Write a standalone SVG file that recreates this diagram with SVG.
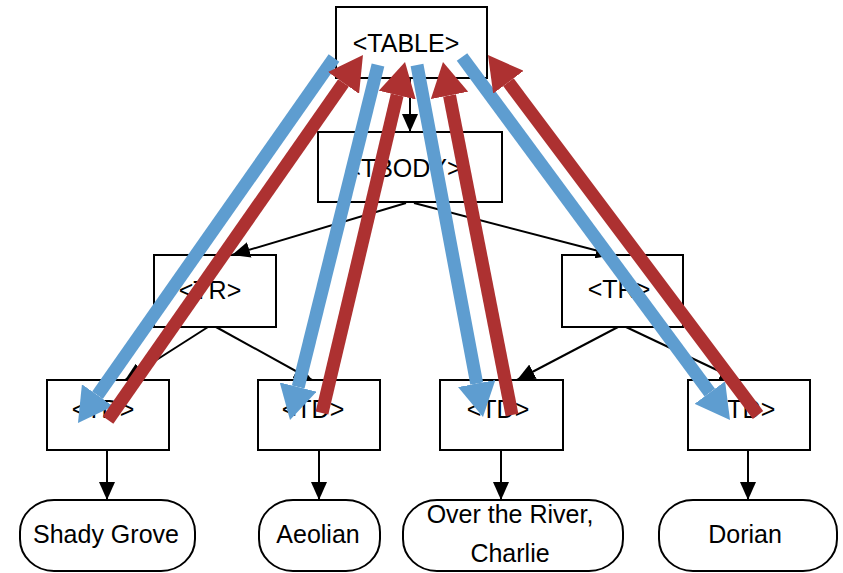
<svg xmlns="http://www.w3.org/2000/svg" width="843" height="573" viewBox="0 0 843 573">
<style>
.box{fill:#fff;stroke:#000;stroke-width:2}
.lbl{font-family:"Liberation Sans",Arial,sans-serif;font-size:25px;fill:#000;text-anchor:middle}
.conn{stroke:#000;stroke-width:2;fill:none;marker-end:url(#ah)}
.blue{stroke:#5e9dd0;stroke-width:13;fill:none;marker-end:url(#hb)}
.red{stroke:#ad3131;stroke-width:13;fill:none;marker-end:url(#hr)}
</style>
<defs>
<marker id="ah" markerUnits="userSpaceOnUse" markerWidth="18" markerHeight="16" refX="18" refY="8" orient="auto"><path d="M0,0 L18,8 L0,16 z" fill="#000"/></marker>
<marker id="hb" markerUnits="userSpaceOnUse" markerWidth="34" markerHeight="38" refX="0" refY="19" orient="auto"><path d="M0,0 L34,19 L0,38 z" fill="#5e9dd0"/></marker>
<marker id="hr" markerUnits="userSpaceOnUse" markerWidth="34" markerHeight="38" refX="0" refY="19" orient="auto"><path d="M0,0 L34,19 L0,38 z" fill="#ad3131"/></marker>
</defs>
<rect width="843" height="573" fill="#fff"/>
<g id="table"><rect class="box" x="336" y="7" width="151" height="71"/><text class="lbl" x="406" y="52">&lt;TABLE&gt;</text></g>
<g id="tbody"><rect class="box" x="318" y="132" width="184" height="70"/><text class="lbl" x="404" y="177">&lt;TBODY&gt;</text></g>
<g id="tr1"><rect class="box" x="154" y="255" width="122" height="72"/><text class="lbl" x="210" y="299">&lt;TR&gt;</text></g>
<g id="tr2"><rect class="box" x="562" y="255" width="121" height="72"/><text class="lbl" x="619" y="298">&lt;TR&gt;</text></g>
<g id="td1"><rect class="box" x="47" y="380" width="122" height="70"/><text class="lbl" x="103" y="418">&lt;TD&gt;</text></g>
<g id="td2"><rect class="box" x="258" y="380" width="122" height="70"/><text class="lbl" x="313" y="418">&lt;TD&gt;</text></g>
<g id="td3"><rect class="box" x="440" y="380" width="123" height="70"/><text class="lbl" x="498" y="418">&lt;TD&gt;</text></g>
<g id="td4"><rect class="box" x="688" y="380" width="122" height="70"/><text class="lbl" x="744" y="418">&lt;TD&gt;</text></g>
<g id="leaf1"><rect class="box" x="20" y="500" width="175" height="71" rx="34" ry="32"/><text class="lbl" x="106" y="543">Shady Grove</text></g>
<g id="leaf2"><rect class="box" x="259" y="500" width="121" height="71" rx="34" ry="32"/><text class="lbl" x="318" y="543">Aeolian</text></g>
<g id="leaf3"><rect class="box" x="403" y="500" width="220" height="71" rx="34" ry="32"/><text class="lbl" x="510" y="523">Over the River,</text><text class="lbl" x="510" y="562">Charlie</text></g>
<g id="leaf4"><rect class="box" x="659" y="500" width="178" height="71" rx="34" ry="32"/><text class="lbl" x="745" y="543">Dorian</text></g>
<g id="connectors">
<path class="conn" d="M410,78 L410,132"/>
<path class="conn" d="M406,203 L232,255"/>
<path class="conn" d="M414,203 L614,255"/>
<path class="conn" d="M208,327 L125,380"/>
<path class="conn" d="M216,327 L312,380"/>
<path class="conn" d="M618,327 L517,380"/>
<path class="conn" d="M626,327 L738,380"/>
<path class="conn" d="M107,450 L107,500"/>
<path class="conn" d="M319,450 L319,500"/>
<path class="conn" d="M501,450 L501,500"/>
<path class="conn" d="M748,450 L748,500"/>
</g>
<g id="traversal">
<path class="blue" d="M334,58 L97.5,395.2"/>
<path class="red" d="M108,420 L343.5,82.9"/>
<path class="blue" d="M378,65 L298.2,387"/>
<path class="red" d="M322,413 L397.2,95.1"/>
<path class="blue" d="M417,65 L476.7,383.6"/>
<path class="red" d="M512,415 L449.5,95.4"/>
<path class="blue" d="M462,57 L709.8,392.6"/>
<path class="red" d="M758,415 L508.4,82.2"/>
</g>
</svg>
